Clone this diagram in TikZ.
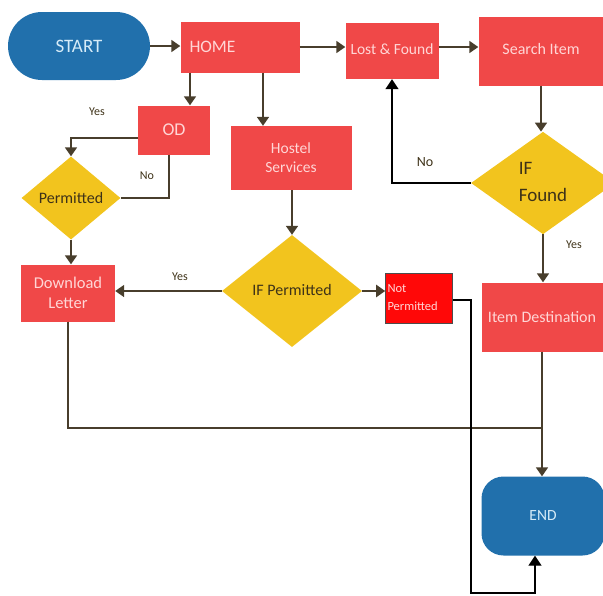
\documentclass[tikz,border=0pt]{standalone}
\usepackage{fontspec}
\setmainfont{Carlito}
\usetikzlibrary{shapes.geometric, arrows.meta, positioning}
\definecolor{my_blue}{RGB}{33, 112, 172}
\definecolor{my_red}{RGB}{240, 72, 72}
\definecolor{my_brightred}{RGB}{255, 8, 8}
\definecolor{my_yellow}{RGB}{242, 196, 30}
\definecolor{my_pink}{RGB}{255, 214, 214}
\definecolor{my_lighttext}{RGB}{214, 236, 248}
\definecolor{my_dark}{RGB}{62, 50, 24}
\definecolor{my_arrow}{RGB}{72, 62, 44}
\tikzset {
  terminal/.style = {rectangle, fill=my_blue, text=my_lighttext, inner sep=0pt},
  model/.style = {rectangle, fill=my_red, text=my_pink, inner sep=0pt, align=center},
  decision/.style = {diamond, fill=my_yellow, text=my_dark, inner sep=0pt, align=center},
  line/.style = {-{Triangle[width=12pt, length=9pt]}, line width=1.8pt, color=my_arrow},
  thinline/.style = {-{Triangle[width=13pt, length=10pt]}, line width=1.2pt, color=black},
  plain/.style = {line width=1.3pt, color=my_arrow},
  answer/.style = {text=my_dark, font=\fontsize{12}{14}\selectfont}
}

\begin{document}
\begin{tikzpicture}[x=1pt, y=-1pt]
    \useasboundingbox (0,0) rectangle (603,595);

    % terminals
    \node[terminal, minimum width=142pt, minimum height=68pt, rounded corners=34pt, font=\fontsize{19}{21}\selectfont] (start) at (79,46) {START};
    \node[terminal, minimum width=123pt, minimum height=79pt, rounded corners=22pt, font=\fontsize{15.5}{17}\selectfont] (end) at (543,516) {END};

    % boxes
    \node[model, minimum width=119pt, minimum height=51pt, text width=101pt, inner xsep=9pt, align=left, font=\fontsize{17.5}{19}\selectfont] (home) at (240,47) {HOME};
    \node[model, minimum width=93pt, minimum height=56pt, font=\fontsize{15.5}{17}\selectfont] (lost) at (392,51) {\raisebox{3pt}{Lost \& Found}};
    \node[model, minimum width=125pt, minimum height=69pt, font=\fontsize{16}{17}\selectfont] (search) at (541,51) {\raisebox{4pt}{Search Item}};
    \node[model, minimum width=72pt, minimum height=49pt, font=\fontsize{18}{20}\selectfont] (od) at (174,130) {OD};
    \node[model, minimum width=121pt, minimum height=64pt, font=\fontsize{15.5}{19}\selectfont] (hostel) at (291,158) {Hostel\\Services};
    \node[model, minimum width=94pt, minimum height=57pt, font=\fontsize{16.5}{20}\selectfont] (download) at (68,293) {Download\\Letter};
    \node[model, fill=my_brightred, draw=black!70, line width=0.6pt, minimum width=67pt, minimum height=50pt, text width=63pt, inner xsep=2pt, align=left, font=\fontsize{12.5}{18}\selectfont] (notperm) at (419,298) {Not\\Permitted};
    \node[model, minimum width=121pt, minimum height=69pt, font=\fontsize{16}{17}\selectfont] (itemdest) at (542,317) {Item Destination};

    % decisions
    \node[decision, minimum width=99pt, minimum height=83pt, font=\fontsize{16}{17}\selectfont] (permitted) at (71,198) {Permitted};
    \node[decision, minimum width=140pt, minimum height=112pt, font=\fontsize{16}{17}\selectfont] (ifperm) at (292,291) {\raisebox{3pt}{IF Permitted}};
    \node[decision, minimum width=144pt, minimum height=102pt, font=\fontsize{19}{27}\selectfont] (iffound) at (543,183) {\begin{tabular}{@{}l@{}}IF\\Found\end{tabular}};

    % free ends
    \coordinate (join) at (542,428);
    \coordinate (np1) at (471,593);
    \coordinate (np2) at (535,593);

    % connectors
    \draw[line] (start.east) -- (home.west |- start.east);
    \draw[line] (home.east) -- (lost.west |- home.east);
    \draw[line] (lost.east |- home.east) -- (search.west |- home.east);
    \draw[line] ([xshift=-50pt]home.south) -- ([xshift=-50pt]home.south |- od.north);
    \draw[line] ([xshift=23pt]home.south) -- ([xshift=23pt]home.south |- hostel.north);
    \draw[line] ([yshift=-8pt]od.west) -| (permitted.north);
    \draw[plain] ([xshift=-5pt]od.south) |- (permitted.east);
    \draw[line] (permitted.south) -- (download.north -| permitted.south);
    \draw[line] (hostel.south -| ifperm.north) -- (ifperm.north);
    \draw[line] (ifperm.west) -- (download.east |- ifperm.west);
    \draw[line, line width=2.4pt] (ifperm.east) -- (notperm.west |- ifperm.east);
    \draw[line] (search.south) -- (search.south |- iffound.north);
    \draw[thinline] (iffound.west) -| (lost.south);
    \draw[line] (iffound.south) -- (itemdest.north -| iffound.south);
    \draw[line] (itemdest.south) -- (end.north -| itemdest.south);
    \draw[plain] (download.south) |- (join);
    \draw[thinline] ([yshift=-2pt]notperm.east) -| (np1) -- (np2) -- (np2 |- end.south);

    % answers
    \node[answer] (yes1) at (97,112) {Yes};
    \node[answer] (no1) at (147,176) {No};
    \node[answer] (yes2) at (180,277) {Yes};
    \node[answer, font=\fontsize{14}{16}\selectfont] (no2) at (425,162) {No};
    \node[answer] (yes3) at (574,245) {Yes};

\end{tikzpicture}
\end{document}
